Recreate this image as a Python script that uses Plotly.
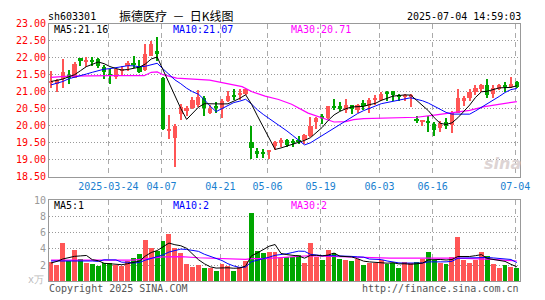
import plotly.graph_objects as go

# ---------------- data ----------------
opens = [21.26, 21.24, 21.37, 21.50, 21.41, 22.00, 21.90, 21.95, 21.97, 21.74,
         21.50, 21.43, 21.64, 21.77, 21.85, 21.75, 21.65, 22.07, 22.22, 21.41,
         19.86, 19.65, 20.35, 20.45, 20.54, 20.63, 20.82, 20.40, 20.58, 20.54,
         20.73, 20.89, 20.92, 20.93, 19.52, 19.26, 19.24, 19.26, 19.42, 19.50,
         19.59, 19.55, 19.60, 19.59, 19.70, 20.12, 20.28, 20.24, 20.58, 20.58,
         20.46, 20.62, 20.48, 20.68, 20.58, 20.77, 20.77, 20.99, 21.03, 20.88,
         20.87, 20.86, 20.21, 20.14, 20.16, 20.05, 19.95, 20.11, 20.02, 20.40,
         20.75, 20.82, 20.99, 21.10, 21.22, 20.93, 21.10, 21.17, 21.15, 21.29]
highs = [21.62, 21.38, 21.97, 21.66, 21.88, 22.01, 22.03, 22.03, 22.00, 21.80,
         21.67, 21.69, 21.78, 21.90, 22.06, 21.95, 22.40, 22.50, 22.63, 21.44,
         20.34, 20.06, 20.66, 20.58, 20.85, 21.05, 20.88, 20.62, 20.71, 20.80,
         21.03, 21.08, 21.08, 21.10, 19.99, 19.35, 19.32, 19.30, 19.55, 19.65,
         19.62, 19.62, 19.72, 19.78, 20.28, 20.28, 20.36, 20.60, 20.80, 20.72,
         20.80, 20.62, 20.66, 20.78, 20.82, 20.90, 21.00, 21.04, 21.03, 20.94,
         20.95, 20.93, 20.30, 20.16, 20.30, 20.11, 20.16, 20.25, 20.44, 21.10,
         20.88, 21.08, 21.22, 21.25, 21.39, 21.20, 21.25, 21.29, 21.43, 21.32]
lows = [21.13, 21.01, 21.12, 21.23, 21.40, 21.76, 21.75, 21.76, 21.72, 21.39,
        21.23, 21.38, 21.48, 21.62, 21.72, 21.55, 21.62, 22.05, 21.90, 19.88,
        19.62, 18.80, 20.18, 20.30, 20.50, 20.57, 20.30, 20.37, 20.40, 20.24,
        20.70, 20.77, 20.77, 20.90, 19.03, 19.05, 19.06, 19.04, 19.30, 19.40,
        19.40, 19.40, 19.47, 19.48, 19.68, 19.92, 20.07, 20.20, 20.46, 20.45,
        20.38, 20.35, 20.40, 20.47, 20.40, 20.63, 20.75, 20.73, 20.73, 20.75,
        20.75, 20.57, 20.08, 19.99, 19.83, 19.71, 19.83, 19.92, 19.80, 20.40,
        20.58, 20.73, 20.92, 20.99, 20.84, 20.82, 21.05, 21.01, 21.12, 21.12]
closes = [21.32, 21.35, 21.58, 21.42, 21.83, 21.91, 21.95, 21.91, 21.77, 21.58,
          21.48, 21.67, 21.68, 21.85, 21.81, 21.60, 22.13, 22.42, 22.13, 19.93,
          19.93, 20.00, 20.55, 20.52, 20.78, 20.87, 20.52, 20.51, 20.55, 20.75,
          20.89, 20.87, 20.96, 21.08, 19.37, 19.17, 19.17, 19.29, 19.52, 19.59,
          19.45, 19.52, 19.56, 19.73, 19.99, 20.24, 20.24, 20.58, 20.54, 20.51,
          20.63, 20.50, 20.62, 20.58, 20.77, 20.82, 20.93, 20.93, 20.90, 20.86,
          20.91, 20.90, 20.16, 20.16, 20.08, 19.88, 20.08, 19.99, 20.40, 20.82,
          20.84, 20.99, 21.12, 21.22, 20.90, 21.12, 21.20, 21.16, 21.25, 21.15]
volumes = [2.38, 2.00, 4.70, 2.50, 3.80, 2.65, 2.26, 2.10, 1.87, 2.20,
           2.26, 2.00, 1.87, 2.50, 2.80, 3.30, 5.10, 4.05, 3.70, 4.95,
           5.80, 4.05, 3.45, 2.06, 1.75, 2.00, 1.55, 1.55, 1.27, 2.06,
           1.87, 1.27, 1.67, 2.50, 8.40, 3.65, 3.50, 3.57, 3.57, 2.86,
           2.94, 2.94, 3.25, 2.26, 4.64, 2.94, 2.58, 3.77, 3.45, 2.74,
           2.58, 2.46, 2.66, 1.98, 2.26, 2.26, 2.58, 2.06, 2.26, 1.55,
           2.34, 2.26, 2.38, 2.66, 3.57, 2.58, 2.26, 2.06, 2.94, 5.44,
           2.58, 2.26, 2.58, 3.57, 3.06, 2.06, 1.59, 1.98, 1.75, 1.55]

# moving-average values at the left edge (need history not shown in the chart)
ma5_head = [21.30, 21.33, 21.37, 21.44]
ma10_head = [21.20, 21.24, 21.30, 21.38, 21.42, 21.47, 21.52, 21.57, 21.62]
ma30_idx = [0, 3, 10, 15.8, 17, 18, 19, 21.3, 26.9, 29.7, 32.4, 34.1, 36.3, 38.6,
            40.8, 43.6, 45.8, 48, 50, 51.3, 53, 57, 62, 65, 68, 71, 73.5, 76.3, 79]
ma30_val = [21.42, 21.46, 21.47, 21.47, 21.57, 21.58, 21.50, 21.40, 21.34, 21.25,
            21.15, 21.00, 20.87, 20.77, 20.63, 20.37, 20.25, 20.11, 20.12, 20.18,
            20.21, 20.23, 20.25, 20.31, 20.37, 20.45, 20.56, 20.63, 20.71]
vma5_head = [2.25, 2.45, 2.75, 2.95]
vma10_head = [2.50, 2.50, 2.50, 2.55, 2.55, 2.55, 2.50, 2.50, 2.45]
vma30_idx = [0, 14, 19, 22, 25, 30, 33, 34, 36.3, 43.6, 53, 57.5, 64, 69, 75, 79]
vma30_val = [2.60, 2.60, 3.00, 3.05, 2.90, 2.80, 2.70, 2.80, 2.80, 3.15, 2.95,
             2.86, 2.85, 2.85, 2.70, 2.50]

date_idx = [10, 19, 29, 37, 46, 56, 65, 79]
date_labels = ['2025-03-24', '04-07', '04-21', '05-06', '05-19', '06-03', '06-16', '07-04']
price_ticks = [18.5, 19.0, 19.5, 20.0, 20.5, 21.0, 21.5, 22.0, 22.5, 23.0]
vol_ticks = [2, 4, 6, 8, 10]

# ---------------- helpers ----------------
W, H = 545, 300
MONO = 'DejaVu Sans Mono'
RED = '#FF5555'
GREEN = '#00A600'


def px(x):
    return x / W


def py(y):
    return 1 - y / H


def moving_avg(vals, n, head):
    out = list(head)
    for i in range(n - 1, len(vals)):
        out.append(sum(vals[i - n + 1:i + 1]) / n)
    return out


idx = list(range(len(closes)))
cols = [RED if c >= o else GREEN for o, c in zip(opens, closes)]
body_base = [min(o, c) for o, c in zip(opens, closes)]
body_h = [max(abs(c - o), 0.03) for o, c in zip(opens, closes)]
wick_h = [h - l for h, l in zip(highs, lows)]

ma5 = moving_avg(closes, 5, ma5_head)
ma10 = moving_avg(closes, 10, ma10_head)
vma5 = moving_avg(volumes, 5, vma5_head)
vma10 = moving_avg(volumes, 10, vma10_head)

fig = go.Figure()
fig.add_trace(go.Bar(x=idx, y=wick_h, base=lows, width=0.17, marker=dict(color=cols, line=dict(width=0)),
                     xaxis='x', yaxis='y', hoverinfo='skip'))
fig.add_trace(go.Bar(x=idx, y=body_h, base=body_base, width=0.72, marker=dict(color=cols, line=dict(width=0)),
                     xaxis='x', yaxis='y', hoverinfo='skip'))
fig.add_trace(go.Scatter(x=ma30_idx, y=ma30_val, mode='lines', line=dict(color='#FF00FF', width=1.2),
                         xaxis='x', yaxis='y'))
fig.add_trace(go.Scatter(x=idx, y=ma10, mode='lines', line=dict(color='#0000FF', width=1), xaxis='x', yaxis='y'))
fig.add_trace(go.Scatter(x=idx, y=ma5, mode='lines', line=dict(color='#000000', width=1), xaxis='x', yaxis='y'))

fig.add_trace(go.Bar(x=idx, y=volumes, width=0.83, marker=dict(color=cols, line=dict(width=0)),
                     xaxis='x2', yaxis='y2', hoverinfo='skip'))
fig.add_trace(go.Scatter(x=vma30_idx, y=vma30_val, mode='lines', line=dict(color='#FF00FF', width=1.2),
                         xaxis='x2', yaxis='y2'))
fig.add_trace(go.Scatter(x=idx, y=vma10, mode='lines', line=dict(color='#0000FF', width=1), xaxis='x2', yaxis='y2'))
fig.add_trace(go.Scatter(x=idx, y=vma5, mode='lines', line=dict(color='#000000', width=1), xaxis='x2', yaxis='y2'))

xdom = [px(50), px(529.5)]
xr = [-0.333, 79.5]
grid_x = dict(showgrid=True, gridcolor='#AAAAAA', griddash='5px,4px', gridwidth=1,
              showline=True, mirror=True, linecolor='#999999', linewidth=1, zeroline=False, ticks='')

fig.update_layout(
    width=W, height=H, margin=dict(l=0, r=0, t=0, b=0),
    paper_bgcolor='white', plot_bgcolor='white', showlegend=False,
    barmode='overlay', bargap=0,
    xaxis=dict(domain=xdom, range=xr, anchor='y', tickmode='array',
               tickvals=[t - 0.28 for t in date_idx], ticktext=date_labels,
               tickfont=dict(family=MONO, size=10, color='#1A7FD0'), **grid_x),
    yaxis=dict(domain=[py(177.3), py(18.3)], range=[18.5, 23.0], anchor='x', tickmode='array',
               tickvals=price_ticks, ticktext=['%.2f' % v for v in price_ticks],
               tickfont=dict(family=MONO, size=10, color='#FF0000'),
               showgrid=True, gridcolor='#999999', griddash='1px,2px', gridwidth=1,
               showline=True, mirror=True, linecolor='#999999', linewidth=1, zeroline=False, ticks=''),
    xaxis2=dict(domain=xdom, range=xr, anchor='y2', matches='x', tickmode='array',
                tickvals=[t - 0.28 for t in date_idx], showticklabels=False, **grid_x),
    yaxis2=dict(domain=[py(285.7), py(201.7)], range=[0, 10], anchor='x2', tickmode='array',
                tickvals=vol_ticks, ticktext=[str(v) for v in vol_ticks],
                tickfont=dict(family=MONO, size=10, color='#999999'),
                showgrid=True, gridcolor='#999999', griddash='1px,2px', gridwidth=1,
                showline=True, mirror=True, linecolor='#999999', linewidth=1, zeroline=False, ticks=''),
)


def txt(s, x, y, color='#000000', anchor='left', size=10, family=MONO, **kw):
    fig.add_annotation(text=s, x=px(x), y=py(y), xref='paper', yref='paper', showarrow=False,
                       xanchor=anchor, yanchor='middle', borderpad=0,
                       font=dict(family=family, size=size, color=color), **kw)


txt('sh603301', 48, 10.5)
txt('振德医疗\u00a0\u00a0－\u00a0\u00a0日K线图', 120, 10, size=12, family='Noto Sans CJK SC')
txt('2025-07-04 14:59:03', 532, 10.5, anchor='right')
txt('MA5:21.16', 54, 24)
txt('MA10:21.07', 175, 24, color='#0000FF')
txt('MA30:20.71', 295, 24, color='#FF00FF')
txt('MA5:1', 54, 207)
txt('MA10:2', 175, 207, color='#0000FF')
txt('MA30:2', 295, 207, color='#FF00FF')
txt('x万', 28, 284, color='#BBBBBB')
txt('Copyright 2025 SINA.COM', 49, 293, color='#555555')
txt('http://finance.sina.com.cn', 530, 293, color='#555555', anchor='right')
txt('<b><i>sina</i></b>', 512, 164, color='#DDD4D4', anchor='center', size=16, family='DejaVu Sans')

fig.write_html('out.html')
